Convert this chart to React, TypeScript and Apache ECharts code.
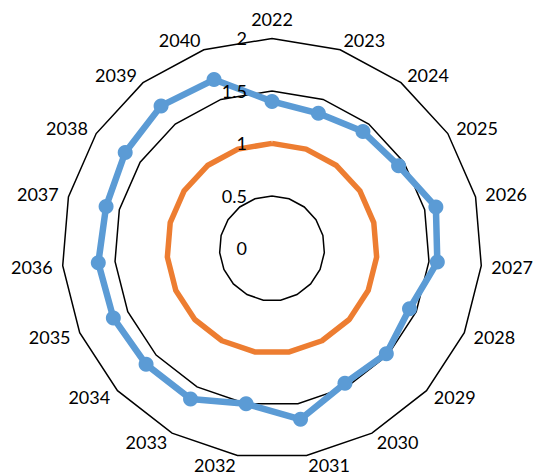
import React, { useEffect, useRef } from "react";
import * as echarts from "echarts";

const years = [
  "2022", "2023", "2024", "2025", "2026", "2027", "2028", "2029", "2030", "2031",
  "2032", "2033", "2034", "2035", "2036", "2037", "2038", "2039", "2040",
];
const seriesA = [
  1.40, 1.36, 1.41, 1.44, 1.61, 1.58, 1.43, 1.48, 1.46, 1.65,
  1.50, 1.63, 1.63, 1.65, 1.66, 1.63, 1.67, 1.72, 1.70,
];
const seriesB = [
  1.0, 1.0, 1.0, 1.0, 1.0, 1.0, 1.0, 1.0, 1.0, 1.0,
  1.0, 1.0, 1.0, 1.0, 1.0, 1.0, 1.0, 1.0, 1.0,
];
const axisMin = 0;
const axisMax = 2;
const splitCount = 4;

// ECharts radar places indicators counter-clockwise; reorder so the years run clockwise.
const order = [0, ...years.slice(1).map((_, i) => years.length - 1 - i)];
const reorder = <T,>(arr: T[]) => order.map((i) => arr[i]);

export default function App() {
  const ref = useRef<HTMLDivElement>(null);
  useEffect(() => {
    if (!ref.current) return;
    const chart = echarts.init(ref.current, null, { renderer: "svg" });
    const font = "Lato, 'Open Sans', sans-serif";
    const center = [272, 248.4];
    const radius = 210;
    const indicator = reorder(years).map((name) => ({ name, min: axisMin, max: axisMax }));
    const labelIndicator = reorder(years).map((name, i) => {
      const base: any = { name: "", min: axisMin, max: axisMax };
      if (i === 0) {
        base.axisLabel = {
          show: true,
          color: "#000",
          fontSize: 18,
          fontFamily: font,
          margin: 25,
        };
      }
      return base;
    });
    chart.setOption({
      animation: false,
      backgroundColor: "#fff",
      radar: [
        {
          z: 0,
          center,
          radius,
          startAngle: 90,
          shape: "polygon",
          splitNumber: splitCount,
          indicator,
          axisName: { color: "#000", fontSize: 18, fontFamily: font },
          nameGap: 10,
          axisLine: { show: false },
          axisTick: { show: false },
          axisLabel: { show: false },
          splitArea: { show: false },
          splitLine: { lineStyle: { color: "#000", width: 1.5 } },
        },
        {
          z: 10,
          center,
          radius,
          startAngle: 90,
          shape: "polygon",
          splitNumber: splitCount,
          indicator: labelIndicator,
          axisName: { show: false },
          axisLine: { show: false },
          axisTick: { show: false },
          axisLabel: { show: false },
          splitArea: { show: false },
          splitLine: { show: false },
        },
      ],
      series: [
        {
          type: "radar",
          radarIndex: 0,
          silent: true,
          data: [
            {
              value: reorder(seriesB),
              symbol: "none",
              lineStyle: { color: "#ED7D31", width: 5.5 },
              itemStyle: { color: "#ED7D31" },
            },
            {
              value: reorder(seriesA),
              symbol: "circle",
              symbolSize: 15,
              lineStyle: { color: "#5B9BD5", width: 6.5 },
              itemStyle: { color: "#5B9BD5" },
            },
          ],
        },
      ],
    });
    return () => chart.dispose();
  }, []);
  return (
    <div
      ref={ref}
      style={{ position: "fixed", left: 0, top: 0, width: 537, height: 475 }}
    />
  );
}
